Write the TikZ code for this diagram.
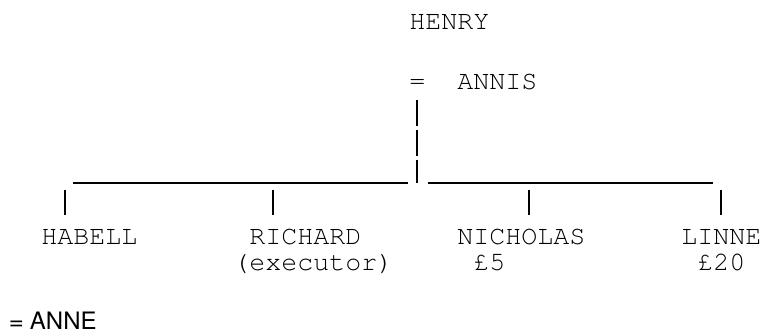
\documentclass[tikz,border=0pt]{standalone}
\usepackage[T1]{fontenc}
\usepackage{tikz}
\newcommand\treefont{\fontfamily{pcr}\fontsize{20}{24}\selectfont}
\newcommand\wifefont{\fontfamily{phv}\fontsize{18}{22}\selectfont}
\tikzstyle{person}=[inner sep=0pt,anchor=base west,font=\treefont]
\tikzstyle{spouse}=[inner sep=0pt,anchor=base west,font=\wifefont]
\tikzstyle{stem}=[line width=1.1pt,dash pattern=on 19.5pt off 3pt]
\tikzstyle{bar}=[line width=1.1pt]
\begin{document}
\begin{tikzpicture}[x=0.75pt,y=-0.75pt]
  \useasboundingbox (0,0) rectangle (760,334);
  \node[person] (henry)    at (409,30)  {HENRY};
  \node[person] (eq)       at (409,90)  {=};
  \node[person] (annis)    at (457,90)  {ANNIS};
  \node[person] (habell)   at (41,245)  {HABELL};
  \node[person] (richard)  at (249,245) {RICHARD};
  \node[person] (richnote) at (233,271) {(executor)};
  \node[person] (nicholas) at (457,245) {NICHOLAS};
  \node[person] (nicnote)  at (473,271) {\pounds5};
  \node[person] (linne)    at (681,245) {LINNE};
  \node[person] (linnote)  at (697,271) {\pounds20};
  \node[spouse] (anne)     at (9,330)   {= ANNE};
  % line of descent
  \coordinate (stemtop) at (417,100);
  \coordinate (knot) at (417,183);
  \coordinate (barleft) at (73,183);
  \coordinate (barright) at (713,183);
  \draw[stem] (stemtop) -- (knot);
  \draw[bar] (barleft) -- ([xshift=-7]knot);
  \draw[bar] ([xshift=8]knot) -- (barright);
  \foreach \n/\x in {habell/65,richard/273,nicholas/529,linne/721} {
    \coordinate (\n-up) at (\x,190);
    \coordinate (\n-down) at (\x,215);
    \draw[bar] (\n-up) -- (\n-down);
  }
\end{tikzpicture}
\end{document}
